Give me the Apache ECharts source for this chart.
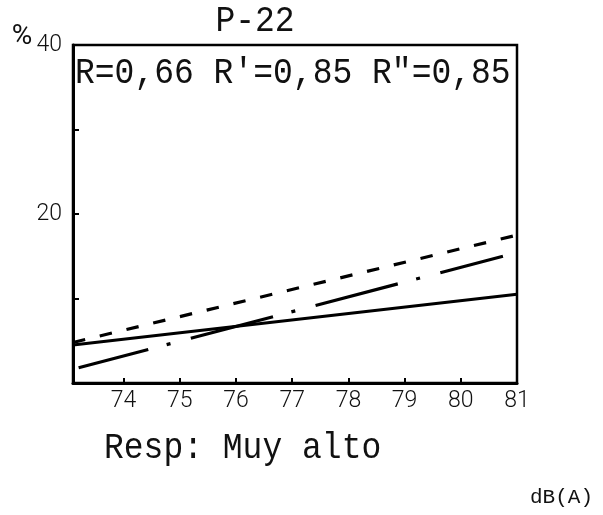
<!DOCTYPE html>
<html>
<head>
<meta charset="utf-8">
<script src="https://cdn.jsdelivr.net/npm/echarts@6/dist/echarts.min.js"></script>
<style>html,body{margin:0;padding:0;background:#fff}#c{width:603px;height:515px}</style>
</head>
<body>
<div id="c"></div>
<script>
// ---- data ----
const xTicks = [74, 75, 76, 77, 78, 79, 80, 81];
const yTickValues = [10, 20, 30];
const yLabelValues = [20, 40];
const lineX = [73.1, 81];          // solid and dashed lines span
const solidY = [4.5, 10.5];        // R
const dashedY = [4.8, 17.5];       // R'
const dashDotX = [73.2, 80.75];    // R'' span
const dashDotY = [1.8, 15.0];
const titleText = 'P-22';
const rText = 'R=0,66 R\'=0,85 R"=0,85';
const respText = 'Resp: Muy alto';
const unitX = 'dB(A)';
const unitY = '%';

const pairs = (xs, ys) => xs.map((x, i) => [x, ys[i]]);

const chart = echarts.init(document.getElementById('c'), null, {renderer: 'canvas'});
const mono = '"Liberation Mono", "DejaVu Sans Mono", monospace';
const labelFont = {fontFamily: 'Roboto, "DejaVu Sans", sans-serif', fontWeight: 300, fontSize: 23, color: '#111'};

chart.setOption({
  animation: false,
  backgroundColor: '#fff',
  grid: {left: 73, right: 86, top: 45, bottom: 132, show: true, borderColor: '#000', borderWidth: 2.5, backgroundColor: 'transparent'},
  xAxis: {
    type: 'value', min: 73.1, max: 81,
    axisLine: {show: true, onZero: false, lineStyle: {color: '#000', width: 3}},
    axisTick: {show: true, inside: true, length: 5, customValues: xTicks, lineStyle: {color: '#000', width: 2}},
    axisLabel: Object.assign({customValues: xTicks, margin: 7, formatter: v => String(v)}, labelFont),
    splitLine: {show: false}
  },
  yAxis: {
    type: 'value', min: 0, max: 40,
    axisLine: {show: true, lineStyle: {color: '#000', width: 3}},
    axisTick: {show: true, inside: true, length: 6, customValues: yTickValues, lineStyle: {color: '#000', width: 2}},
    axisLabel: Object.assign({customValues: yLabelValues, margin: 11, formatter: v => String(v)}, labelFont),
    splitLine: {show: false}
  },
  series: [
    {type: 'line', data: pairs(lineX, solidY), symbol: 'none', lineStyle: {color: '#000', width: 3, type: 'solid'}},
    {type: 'line', data: pairs(lineX, dashedY), symbol: 'none', lineStyle: {color: '#000', width: 3.2, type: [12.5, 15]}},
    {type: 'line', data: pairs(dashDotX, dashDotY), symbol: 'none', lineStyle: {color: '#000', width: 3.2, type: [85, 19, 4, 21], dashOffset: 13}}
  ],
  graphic: [
    {type: 'text', x: 255, y: 21, scaleY: 1.1, style: {text: titleText, font: '33px ' + mono, fill: '#111', textAlign: 'center', textVerticalAlign: 'middle'}},
    {type: 'text', x: 75, y: 73, scaleY: 1.1, style: {text: rText, font: '33px ' + mono, fill: '#111', textAlign: 'left', textVerticalAlign: 'middle'}},
    {type: 'text', x: 104, y: 448, scaleY: 1.1, style: {text: respText, font: '33px ' + mono, fill: '#111', textAlign: 'left', textVerticalAlign: 'middle'}},
    {type: 'text', x: 530, y: 497, style: {text: unitX, font: '21px ' + mono, fill: '#111', textAlign: 'left', textVerticalAlign: 'middle'}},
    {type: 'text', x: 22, y: 37, style: {text: unitY, font: '28px Roboto, sans-serif', fill: '#111', textAlign: 'center', textVerticalAlign: 'middle'}}
  ]
});
</script>
</body>
</html>
